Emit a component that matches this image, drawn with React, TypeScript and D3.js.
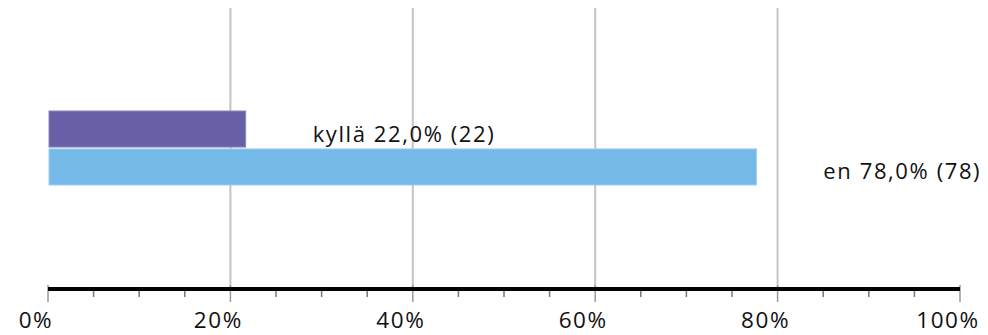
import React from "react";
import * as d3 from "d3";

const categories = ["kyllä", "en"];
const percents = [22.0, 78.0];
const counts = [22, 78];
const colors = ["#6760a6", "#74b9e7"];
const strokes = ["#8a85bb", "#9ccdee"];
const majorTicks = [0, 20, 40, 60, 80, 100];
const minorTicks = d3.range(0, 101, 5);

const W = 988;
const H = 335;

export default function App() {
  const x = d3.scaleLinear().domain([0, 100]).range([48, 960]);
  const y = d3.scaleBand<string>().domain(categories).range([111, 185]).paddingInner(0.05).paddingOuter(0);
  const axisY = 289;
  const font = "'Open Sans', 'DejaVu Sans', sans-serif";
  const fmt = (v: number) => v.toFixed(1).replace(".", ",");
  return (
    <div style={{ position: "absolute", left: 0, top: 0 }}>
      <svg width={W} height={H} style={{ display: "block", background: "#fff" }}>
        {majorTicks.filter((t) => t > 0 && t < 100).map((t) => (
          <line key={"g" + t} x1={x(t)} x2={x(t)} y1={8} y2={axisY} stroke="#c4c4c4" strokeWidth={2} />
        ))}
        {categories.map((c, i) => {
          const x0 = x(0) + 1;
          const x1 = x(percents[i]) - 3;
          const yy = y(c)!;
          return (
            <g key={c}>
              <rect x={x0} y={yy} width={x1 - x0} height={y.bandwidth()} fill={colors[i]} stroke={strokes[i]} strokeWidth={1} />
              <text x={x1 + 67} y={i === 0 ? 142 : 179} fontFamily={font} fontSize={22} letterSpacing={1.6} fill="#111">
                {`${c} ${fmt(percents[i])}% (${counts[i]})`}
              </text>
            </g>
          );
        })}
        {minorTicks.filter((t) => t % 20 !== 0).map((t) => (
          <line key={"m" + t} x1={x(t)} x2={x(t)} y1={290} y2={297} stroke="#777" strokeWidth={1.5} />
        ))}
        {majorTicks.map((t) => (
          <line key={"M" + t} x1={x(t)} x2={x(t)} y1={285} y2={302} stroke="#999" strokeWidth={1.5} />
        ))}
        <line x1={x(0)} x2={x(100)} y1={axisY} y2={axisY} stroke="#000" strokeWidth={4} />
        {majorTicks.map((t) => (
          <text key={"l" + t} x={x(t) - 12} y={328} textAnchor="middle" fontFamily={font} fontSize={22.5} letterSpacing={1.6} fill="#111">
            {`${t}%`}
          </text>
        ))}
      </svg>
    </div>
  );
}
